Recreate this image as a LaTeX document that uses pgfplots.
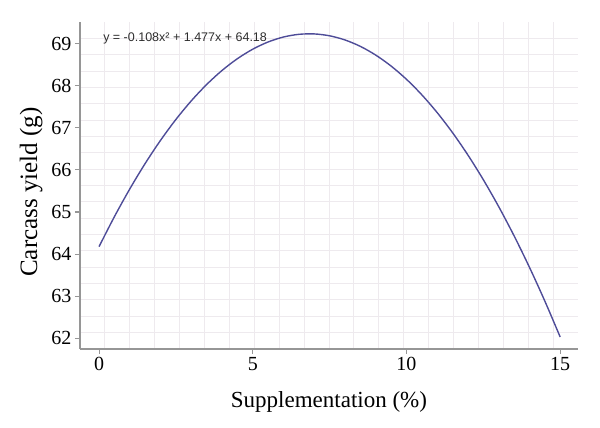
\documentclass[border=0pt]{standalone}
\usepackage{pgfplots}
\pgfplotsset{compat=1.18}
\usepackage{fontspec}
\setmainfont{Liberation Serif}
\newfontfamily\eqfont{Liberation Sans}

\definecolor{curveblue}{RGB}{78,76,152}
\definecolor{gridpink}{RGB}{238,234,238}
\definecolor{axisgray}{RGB}{150,150,150}
\definecolor{eqgray}{RGB}{45,45,45}

\begin{document}
\begin{tikzpicture}
\useasboundingbox (-80pt,-79pt) rectangle (520pt,349pt);
\begin{axis}[
  at={(0,0)}, anchor=south west,
  scale only axis,
  width=498pt, height=327pt,
  xmin=-0.62, xmax=15.58,
  ymin=61.75, ymax=69.51,
  axis x line*=bottom, axis y line*=left,
  axis line style={draw=axisgray, line width=1.1pt, -},
  xtick={0,5,10,15},
  ytick={62,63,64,65,66,67,68,69},
  minor xtick={0.19,1.00,1.81,2.62,3.43,4.24,5.05,5.86,6.67,7.48,8.29,9.10,9.91,10.72,11.53,12.34,13.15,13.96,14.77},
  minor ytick={62.138,62.526,62.914,63.302,63.690,64.078,64.466,64.854,65.242,65.630,66.018,66.406,66.794,67.182,67.570,67.958,68.346,68.734,69.122},
  grid=minor,
  minor grid style={draw=gridpink, line width=0.9pt},
  minor tick length=0pt,
  major tick length=5pt,
  tick align=outside,
  tick style={draw=axisgray, line width=1.1pt},
  /pgf/number format/assume math mode=true,
  ticklabel style={font=\fontsize{20}{24}\selectfont, text=black},
  xlabel={Supplementation (\%)},
  ylabel={Carcass yield (g)},
  xlabel style={font=\fontsize{23}{27}\selectfont, at={(axis description cs:0.5,-0.1774)}, anchor=base},
  ylabel style={font=\fontsize{25}{29}\selectfont, at={(axis description cs:-0.0863,0.48)}, anchor=base},
]
% fitted quadratic, sampled every 0.5 %
\addplot[curveblue, line width=1.4pt, smooth] coordinates {
  (0,64.18) (0.5,64.8915) (1,65.549) (1.5,66.1525) (2,66.702)
  (2.5,67.1975) (3,67.639) (3.5,68.0265) (4,68.36) (4.5,68.6395)
  (5,68.865) (5.5,69.0365) (6,69.154) (6.5,69.2175) (7,69.227)
  (7.5,69.1825) (8,69.084) (8.5,68.9315) (9,68.725) (9.5,68.4645)
  (10,68.15) (10.5,67.7815) (11,67.359) (11.5,66.8825) (12,66.352)
  (12.5,65.7675) (13,65.129) (13.5,64.4365) (14,63.69) (14.5,62.8895)
  (15,62.035)
};
\node[anchor=west, inner sep=0pt, text=eqgray, font=\eqfont\fontsize{12.5}{14}\selectfont]
  at (axis cs:0.13,69.13) {y = -0.108x² + 1.477x + 64.18};
\end{axis}
\end{tikzpicture}
\end{document}
